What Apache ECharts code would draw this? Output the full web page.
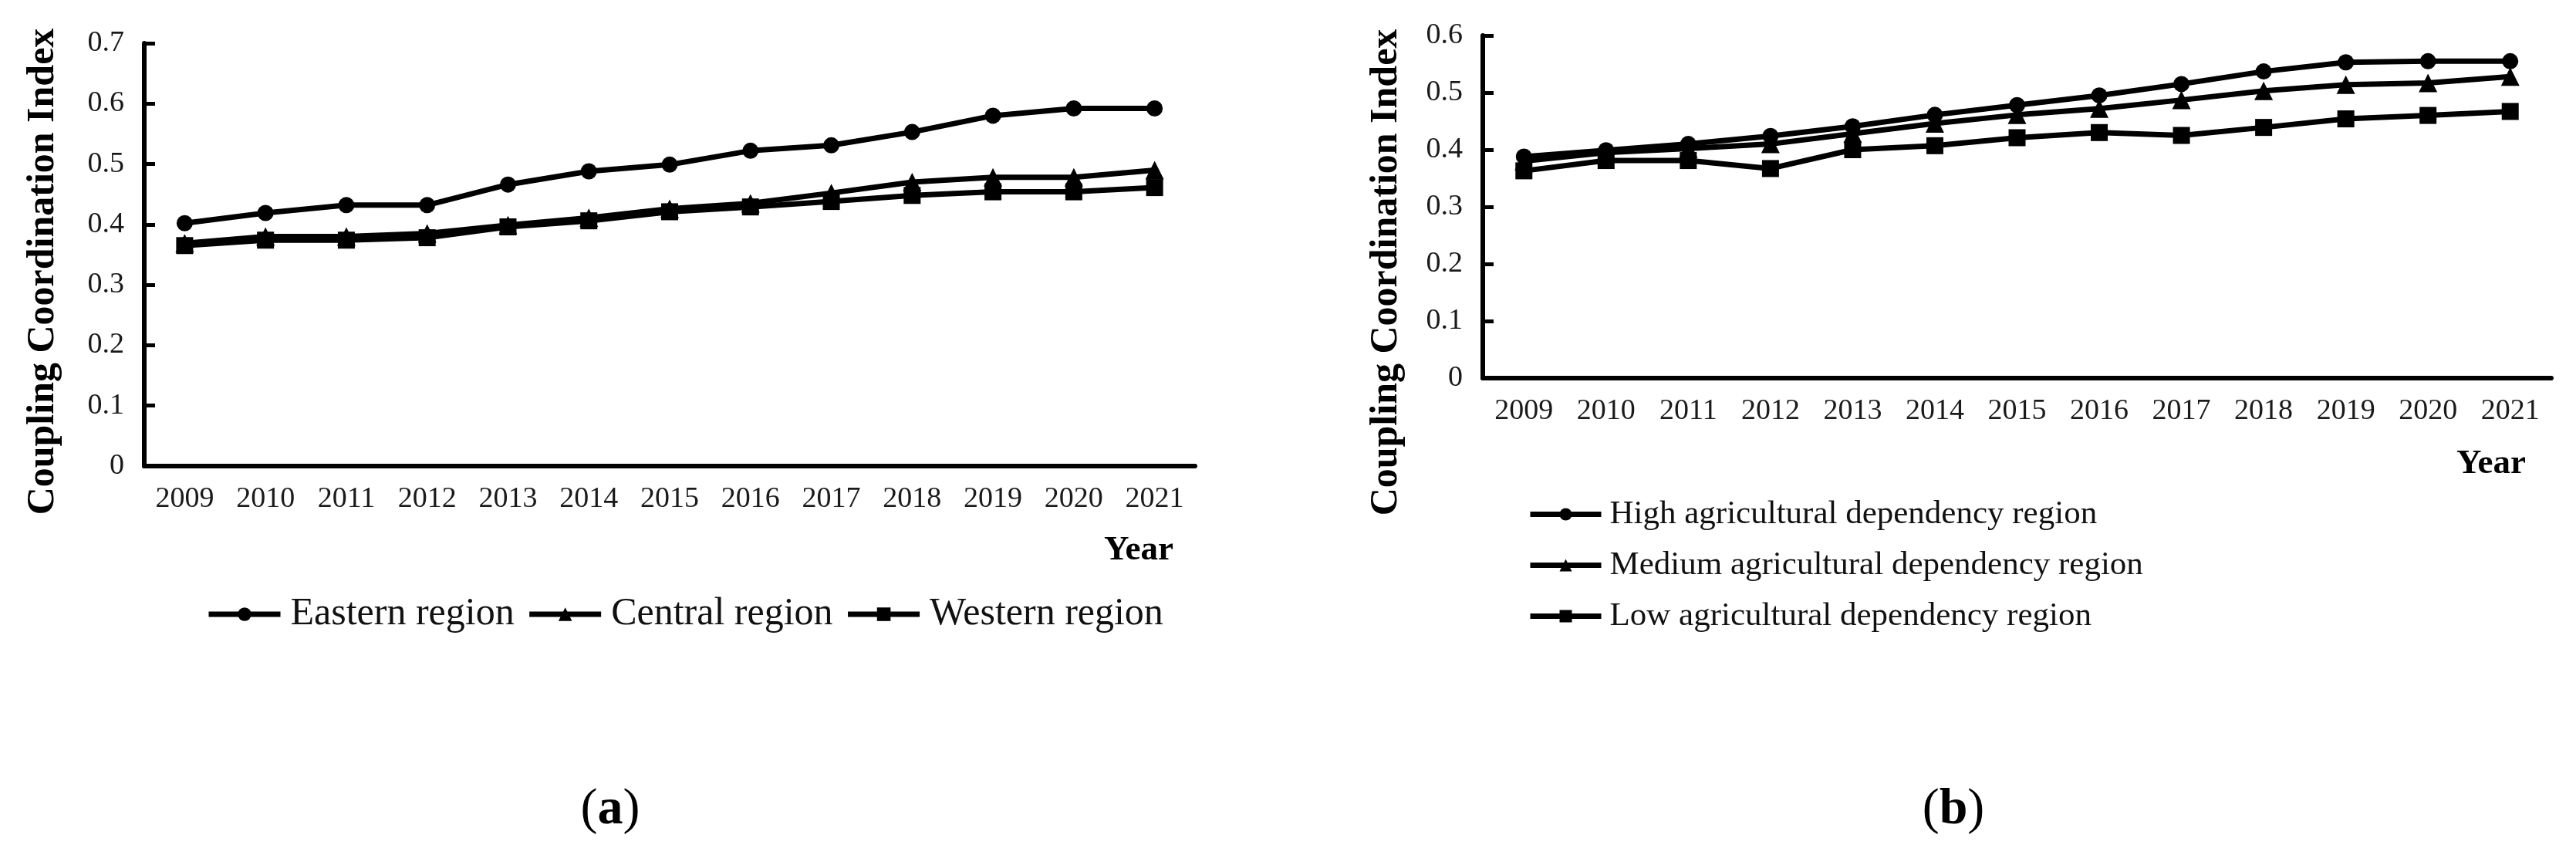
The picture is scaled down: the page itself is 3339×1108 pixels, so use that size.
<!DOCTYPE html>
<html>
<head>
<meta charset="utf-8">
<script src="https://cdn.jsdelivr.net/npm/echarts@6/dist/echarts.min.js"></script>
<style>html,body{margin:0;padding:0;background:#fff;}#main{width:3339px;height:1108px;}</style>
</head>
<body>
<div id="main"></div>
<script>
const years = ['2009','2010','2011','2012','2013','2014','2015','2016','2017','2018','2019','2020','2021'];
const eastern = [0.402,0.419,0.432,0.432,0.466,0.488,0.499,0.522,0.531,0.553,0.580,0.592,0.592];
const central = [0.369,0.380,0.380,0.385,0.399,0.411,0.426,0.435,0.452,0.470,0.478,0.478,0.490];
const western = [0.365,0.374,0.374,0.378,0.396,0.406,0.421,0.429,0.438,0.448,0.454,0.454,0.461];
const high = [0.388,0.399,0.410,0.424,0.441,0.461,0.478,0.495,0.515,0.537,0.553,0.555,0.555];
const medium = [0.380,0.395,0.402,0.410,0.428,0.446,0.461,0.472,0.487,0.503,0.514,0.517,0.528];
const low = [0.363,0.381,0.381,0.367,0.400,0.407,0.421,0.430,0.425,0.439,0.454,0.460,0.467];
const namesA = ['Eastern region','Central region','Western region'];
const namesB = ['High agricultural dependency region','Medium agricultural dependency region','Low agricultural dependency region'];
const yTitle = 'Coupling Coordination Index';
const xTitle = 'Year';

const serif = '"Liberation Serif","Times New Roman",serif';
const chart = echarts.init(document.getElementById('main'), null, {renderer:'canvas'});

function xAx(gi){
  return {type:'category', gridIndex:gi, data:years, boundaryGap:true,
    axisLine:{lineStyle:{color:'#000', width:6}},
    axisTick:{inside:true, length:14, lineStyle:{color:'#000', width:5}},
    axisLabel:{fontFamily:serif, fontSize:38, color:'#1a1a1a', margin:24}};
}
function yAx(gi, max){
  return {type:'value', gridIndex:gi, min:0, max:max, interval:0.1,
    splitLine:{show:false},
    axisLine:{show:true, lineStyle:{color:'#000', width:6}},
    axisTick:{show:true, inside:true, length:14, lineStyle:{color:'#000', width:5}},
    axisLabel:{fontFamily:serif, fontSize:38, color:'#1a1a1a', margin:26,
      formatter:v => v === 0 ? '0' : v.toFixed(1)}};
}
function ser(name, data, sym, gi){
  return {name:name, type:'line', xAxisIndex:gi, yAxisIndex:gi, data:data,
    symbol:sym, symbolSize: sym==='triangle'?24:(sym==='rect'?22:21), showSymbol:true,
    lineStyle:{color:'#000', width:7}, itemStyle:{color:'#000'}, z:3};
}
const syms = ['circle','triangle','rect'];

chart.setOption({
  animation:false,
  backgroundColor:'#fff',
  grid:[
    {left:187, top:56, right:3339-1549, bottom:1108-604},
    {left:1922, top:46, right:3339-3307, bottom:1108-490}
  ],
  xAxis:[xAx(0), xAx(1)],
  yAxis:[yAx(0,0.7), yAx(1,0.6)],
  legend:[
    {data:namesA, left:262, top:766, orient:'horizontal', itemWidth:93, itemHeight:22, itemGap:16,
      lineStyle:{width:7, color:'#000'}, itemStyle:{color:'#000'},
      textStyle:{fontFamily:serif, fontSize:50, color:'#111', padding:[0,0,0,8]}},
    {data:namesB, left:1975, top:640, orient:'vertical', itemWidth:92, itemHeight:20, itemGap:23,
      lineStyle:{width:7, color:'#000'}, itemStyle:{color:'#000'},
      textStyle:{fontFamily:serif, fontSize:43, color:'#111', padding:[0,0,0,6]}}
  ],
  series:[
    ser(namesA[0], eastern, syms[0], 0),
    ser(namesA[1], central, syms[1], 0),
    ser(namesA[2], western, syms[2], 0),
    ser(namesB[0], high, syms[0], 1),
    ser(namesB[1], medium, syms[1], 1),
    ser(namesB[2], low, syms[2], 1)
  ],
  graphic:[
    {type:'text', x:56, y:352, rotation:Math.PI/2,
      style:{text:yTitle, font:'bold 50px '+serif, fill:'#000', align:'center', verticalAlign:'middle'}},
    {type:'text', x:1797, y:353, rotation:Math.PI/2,
      style:{text:yTitle, font:'bold 50px '+serif, fill:'#000', align:'center', verticalAlign:'middle'}},
    {type:'text', x:1476, y:713,
      style:{text:xTitle, font:'bold 45px '+serif, fill:'#000', align:'center', verticalAlign:'middle'}},
    {type:'text', x:3229, y:601,
      style:{text:xTitle, font:'bold 45px '+serif, fill:'#000', align:'center', verticalAlign:'middle'}},
    {type:'text', x:791, y:1050,
      style:{text:'{p|(}{b|a}{p|)}', align:'center', verticalAlign:'middle',
        rich:{p:{font:'66px '+serif, fill:'#000'}, b:{font:'bold 66px '+serif, fill:'#000'}}}},
    {type:'text', x:2532, y:1050,
      style:{text:'{p|(}{b|b}{p|)}', align:'center', verticalAlign:'middle',
        rich:{p:{font:'66px '+serif, fill:'#000'}, b:{font:'bold 66px '+serif, fill:'#000'}}}}
  ]
});
</script>
</body>
</html>
